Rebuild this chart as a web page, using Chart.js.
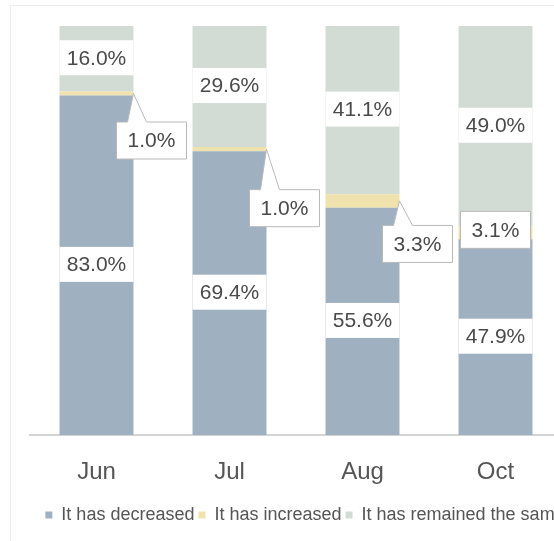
<!DOCTYPE html>
<html>
<head>
<meta charset="utf-8">
<script src="https://cdn.jsdelivr.net/npm/chart.js@4.4.0/dist/chart.umd.min.js"></script>
<style>
    html, body { margin: 0; padding: 0; background: #fff; overflow: hidden; }
    #frame {
        position: absolute; left: 10px; top: 5px; width: 620px; height: 560px;
        border: 1px solid #ececec;
    }
    #wrap { position: absolute; left: 0; top: 0; width: 610px; height: 541px; }
</style>
</head>
<body>
<div id="frame"></div>
<div id="wrap"><canvas id="shareChart"></canvas></div>
<script>
// data
const months = ["Jun", "Jul", "Aug", "Oct"];
const decreased = [83.0, 69.4, 55.6, 47.9];
const increased = [1.0, 1.0, 3.3, 3.1];
const remained = [16.0, 29.6, 41.1, 49.0];
const seriesNames = ["It has decreased", "It has increased", "It has remained the same"];

// where the "increased" callout boxes sit, relative to the segment centre
const calloutShift = [[55, 47], [55, 59], [55, 43], [0, -3]];

const FONT = "'Liberation Sans', Arial, sans-serif";
const TEXT = "#4a4a4a";

const segmentLabels = {
    id: 'segmentLabels',
    afterDatasetsDraw(chart) {
        const ctx = chart.ctx;
        ctx.save();
        ctx.font = "21px " + FONT;
        ctx.textAlign = "center";
        ctx.textBaseline = "middle";

        // plain white bands for decreased + remained
        [0, 2].forEach(function (di) {
            const meta = chart.getDatasetMeta(di);
            meta.data.forEach(function (bar, i) {
                const v = chart.data.datasets[di].data[i];
                const cy = (bar.y + bar.base) / 2 - 1;
                const w = bar.width;
                ctx.fillStyle = "#fff";
                ctx.fillRect(bar.x - w / 2, cy - 17.5, w, 35);
                ctx.fillStyle = TEXT;
                ctx.fillText(v.toFixed(1) + "%", bar.x, cy + 1);
            });
        });

        // callouts for increased
        const meta = chart.getDatasetMeta(1);
        meta.data.forEach(function (bar, i) {
            const v = chart.data.datasets[1].data[i];
            const cy = (bar.y + bar.base) / 2;
            const bx = bar.x + calloutShift[i][0];
            const by = cy + calloutShift[i][1];
            const bw = 70, bh = 37;
            const left = bx - bw / 2, top = by - bh / 2;
            const tipX = bar.x + bar.width / 2, tipY = cy;

            ctx.beginPath();
            ctx.moveTo(left, top);
            if (tipY < top) {
                ctx.lineTo(left + 11, top);
                ctx.lineTo(tipX, tipY);
                ctx.lineTo(left + 30, top);
            }
            ctx.lineTo(left + bw, top);
            ctx.lineTo(left + bw, top + bh);
            ctx.lineTo(left, top + bh);
            ctx.closePath();
            ctx.fillStyle = "#fff";
            ctx.fill();
            ctx.strokeStyle = "#b9b9b9";
            ctx.lineWidth = 1;
            ctx.stroke();

            ctx.fillStyle = TEXT;
            ctx.fillText(v.toFixed(1) + "%", bx, by + 1);
        });
        ctx.restore();
    }
};

function createChart(id, config) {
    const ctx = document.getElementById(id);
    if (!ctx) {
        console.error(`Canvas element with id '${id}' not found`);
        return;
    }
    ctx.chart = new Chart(ctx, config);
}

// empty side axes reserve the margins so the legend keeps the full width
function fixedWidth(px) {
    return function (scale) { scale.width = px; };
}

createChart("shareChart", {
    type: "bar",
    data: {
        labels: months,
        datasets: [
            { label: seriesNames[0], data: decreased, backgroundColor: "#9fb0c1" },
            { label: seriesNames[1], data: increased, backgroundColor: "#efe2ac" },
            { label: seriesNames[2], data: remained, backgroundColor: "#d3dcd4" }
        ]
    },
    options: {
        responsive: true,
        maintainAspectRatio: false,
        animation: false,
        layout: { padding: { left: 0, right: 0, top: 26, bottom: 7 } },
        datasets: { bar: { categoryPercentage: 1, barPercentage: 0.556 } },
        plugins: {
            legend: {
                position: "bottom",
                labels: {
                    font: { family: FONT, size: 18 },
                    color: "#555",
                    boxWidth: 7,
                    boxHeight: 7,
                    padding: 4
                }
            },
            tooltip: { enabled: false }
        },
        scales: {
            x: {
                stacked: true,
                grid: { display: false },
                border: { color: "#d4d4d4", width: 2 },
                ticks: { font: { family: FONT, size: 24 }, color: "#555", padding: 15 }
            },
            y: {
                stacked: true, min: 0, max: 100,
                grid: { display: false }, border: { display: false },
                ticks: { display: false },
                afterFit: fixedWidth(30)
            },
            yRight: {
                type: "linear", position: "right", min: 0, max: 100,
                grid: { display: false }, border: { display: false },
                ticks: { display: false },
                afterFit: fixedWidth(48)
            }
        }
    },
    plugins: [segmentLabels]
});
</script>
</body>
</html>
